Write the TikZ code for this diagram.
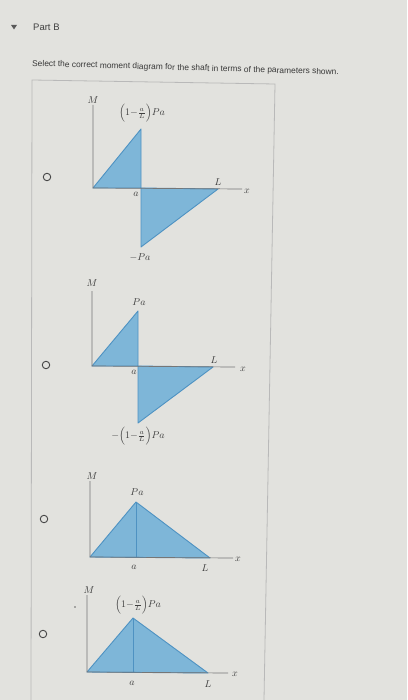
\documentclass[tikz,border=0pt]{standalone}
\usepackage{amsmath}
\usepackage{fontspec}
\newfontfamily\uisans{Liberation Sans}

\definecolor{pagebg}{RGB}{226,226,222}
\definecolor{mblue}{RGB}{126,182,216}
\definecolor{medge}{RGB}{78,146,194}
\definecolor{axisgray}{RGB}{118,118,118}
\definecolor{labelgray}{RGB}{62,62,62}

\tikzset{
  momfill/.style={fill=mblue, draw=medge, line width=0.9pt, line join=round},
  axisline/.style={draw=axisgray, line width=0.7pt},
  mlabel/.style={text=labelgray, font=\fontsize{10}{11}\selectfont, inner sep=0pt},
  radio/.style={circle, draw=gray!55!black, line width=0.9pt, minimum size=7.5pt, inner sep=0pt},
}
\newcommand{\oneminus}{\Bigl(1{-}\tfrac{a}{L}\Bigr)}

\begin{document}
\begin{tikzpicture}[x=1pt,y=-1pt]
        \useasboundingbox[fill=pagebg] (0,0) rectangle (407,700);

        % Header
        \fill[black!65] (11,25) -- (17,25) -- (14,29.5) -- cycle;
        \node[anchor=west, inner sep=0pt, text=black!75, font=\uisans\fontsize{9.5}{11}\selectfont] (part) at (33,27) {Part B};
        \node[anchor=west, inner sep=0pt, rotate=-1.6, text=black!78, font=\uisans\fontsize{8.4}{10}\selectfont] (prompt) at (32,64) {Select the correct moment diagram for the shaft in terms of the parameters shown.};

        % Answer box
        \draw[draw=gray!55, line width=0.8pt] (31,700) -- (32,80) -- (275,84) -- (264,700);

        % Radio buttons
        \node[radio] (r1) at (47,177) {};
        \node[radio] (r2) at (46,365) {};
        \node[radio] (r3) at (44,519) {};
        \node[radio] (r4) at (43,634) {};

        % Diagram 1
        \coordinate (o1) at (93,188);
        \coordinate (t1) at (93,105);
        \coordinate (e1) at (242,189);
        \coordinate (p1) at (141,129);
        \coordinate (f1) at (141,188);
        \coordinate (b1) at (141,247);
        \coordinate (l1) at (218,189);
        \filldraw[momfill] (o1) -- (p1) -- (f1) -- cycle;
        \filldraw[momfill] (f1) -- (b1) -- (l1) -- cycle;
        \draw[axisline] (t1) -- (o1) -- (e1);
        \node[mlabel] (m1) at (93,100) {$M$};
        \node[mlabel] (v1) at (142,113) {$\oneminus Pa$};
        \node[mlabel] (w1) at (140,257) {$-Pa$};
        \node[mlabel] (a1) at (136,194) {$a$};
        \node[mlabel] (ll1) at (218,182) {$L$};
        \node[mlabel] (x1) at (247,191) {$x$};

        % Diagram 2
        \coordinate (o2) at (92,366);
        \coordinate (t2) at (92,291);
        \coordinate (e2) at (235,367);
        \coordinate (p2) at (138,311);
        \coordinate (f2) at (138,366);
        \coordinate (b2) at (138,423);
        \coordinate (l2) at (213,367);
        \filldraw[momfill] (o2) -- (p2) -- (f2) -- cycle;
        \filldraw[momfill] (f2) -- (b2) -- (l2) -- cycle;
        \draw[axisline] (t2) -- (o2) -- (e2);
        \node[mlabel] (m2) at (92,283) {$M$};
        \node[mlabel] (v2) at (139,302) {$Pa$};
        \node[mlabel] (w2) at (138,436) {$-\oneminus Pa$};
        \node[mlabel] (a2) at (134,372) {$a$};
        \node[mlabel] (ll2) at (214,360) {$L$};
        \node[mlabel] (x2) at (243,369) {$x$};

        % Diagram 3
        \coordinate (o3) at (90,557);
        \coordinate (t3) at (90,481);
        \coordinate (e3) at (233,558);
        \coordinate (p3) at (136,502);
        \coordinate (f3) at (136,557);
        \coordinate (l3) at (210,558);
        \filldraw[momfill] (o3) -- (p3) -- (l3) -- cycle;
        \draw[medge, line width=0.9pt] (p3) -- (f3);
        \draw[axisline] (t3) -- (o3) -- (e3);
        \node[mlabel] (m3) at (92,476) {$M$};
        \node[mlabel] (v3) at (137,492) {$Pa$};
        \node[mlabel] (a3) at (134,567) {$a$};
        \node[mlabel] (ll3) at (205,568) {$L$};
        \node[mlabel] (x3) at (238,559) {$x$};

        % Diagram 4
        \coordinate (o4) at (87,672);
        \coordinate (t4) at (87,595);
        \coordinate (e4) at (228,673);
        \coordinate (p4) at (133,618);
        \coordinate (f4) at (133,672);
        \coordinate (l4) at (208,673);
        \filldraw[momfill] (o4) -- (p4) -- (l4) -- cycle;
        \draw[medge, line width=0.9pt] (p4) -- (f4);
        \draw[axisline] (t4) -- (o4) -- (e4);
        \fill[black!60] (75,607) circle (0.8);
        \node[mlabel] (m4) at (89,590) {$M$};
        \node[mlabel] (v4) at (138,605) {$\oneminus Pa$};
        \node[mlabel] (a4) at (132,683) {$a$};
        \node[mlabel] (ll4) at (208,684) {$L$};
        \node[mlabel] (x4) at (235,674) {$x$};
      \end{tikzpicture}
\end{document}
